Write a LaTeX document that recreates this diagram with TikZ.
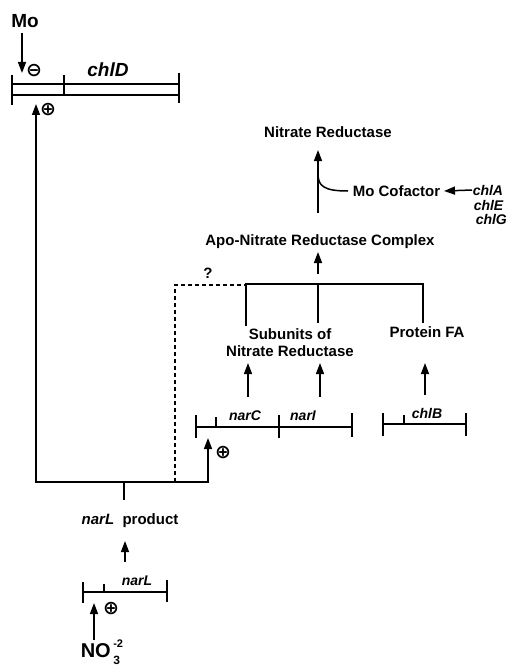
\documentclass[tikz,border=0pt]{standalone}
\usepackage{fontspec}
\setmainfont{Liberation Sans}
\newfontfamily\symfont{DejaVu Sans}
\usetikzlibrary{arrows.meta}
\begin{document}
\begin{tikzpicture}[x=1pt,y=-1pt,
  line width=1.5pt,
  tip/.style={-{Triangle[length=11pt,width=8pt]}},
  lbl/.style={inner sep=0pt,font=\fontsize{15}{17}\selectfont\bfseries},
  gene/.style={inner sep=0pt,font=\fontsize{14}{16}\selectfont\bfseries\itshape},
  big/.style={inner sep=0pt,font=\fontsize{19}{21}\selectfont\bfseries},
  small/.style={inner sep=0pt,font=\fontsize{11}{11}\selectfont\bfseries},
  sym/.style={inner sep=0pt,font=\fontsize{19}{19}\selectfont\symfont\bfseries}]
\useasboundingbox (0,0) rectangle (507,666);
% ---------- chlD at top ----------
\node[big] (mo) at (25,21) {Mo};
\coordinate (motip) at (22,73);
\draw[tip] (22,33) -- (motip);
\node[sym] (minus) at (34,71) {⊖};
\draw (12,84) rectangle (179,95);
\draw (12,75) -- (12,105);
\draw (64,75) -- (64,95);
\draw (179,73) -- (179,103);
\node[big,font=\fontsize{19}{21}\selectfont\bfseries\itshape] (chlD) at (108,70) {chlD};
\node[sym] (plusD) at (48,110) {⊕};
% ---------- main regulator path ----------
\coordinate (topTip) at (36,104);
\coordinate (cornerL) at (36,482);
\coordinate (cornerR) at (208,482);
\coordinate (narCtip) at (208,438);
\draw[{Triangle[length=11pt,width=8pt]}-{Triangle[length=11pt,width=8pt]}]
  (topTip) -- (cornerL) -- (cornerR) -- (narCtip);
\node[sym] (plusC) at (223,453) {⊕};
% dashed path
\coordinate (dashB) at (175,482);
\coordinate (dashC) at (175,285);
\coordinate (branchL) at (246,285);
\draw[dashed,dash pattern=on 4pt off 3pt] (dashB) -- (dashC) -- (branchL);
\node[lbl] (q) at (208,273) {?};
% ---------- narL ----------
\node[lbl] (narLp) at (130,521) {\itshape narL\upshape\ \ product};
\draw (124,482) -- (124,500);
\draw[tip] (125,562) -- (125,541);
\draw (83,592) -- (167,592);
\draw (83,582) -- (83,603);
\draw (104,584) -- (104,592);
\draw (167,580) -- (167,602);
\node[gene] (narL) at (137,581) {narL};
\node[big,font=\fontsize{20}{22}\selectfont\bfseries,anchor=west] (no3) at (80,651) {NO};
\node[small,anchor=west] (sup) at ([xshift=1pt,yshift=7pt]no3.east) {-2};
\node[small,font=\fontsize{12}{12}\selectfont\bfseries,anchor=west] (sub) at ([xshift=1pt,yshift=-9pt]no3.east) {3};
\draw[tip] (94,640) -- (94,603);
\node[sym] (plusL) at (111,609) {⊕};
% ---------- apo complex branch ----------
\draw (246,326) -- (246,284) -- (423,284) -- (423,323);
\draw (318,284) -- (318,323);
\node[lbl] (apo) at (320,242) {Apo-Nitrate Reductase Complex};
\draw[tip] (318,274) -- (318,252);
\node[lbl] (nr) at (328,132) {Nitrate Reductase};
\draw[tip] (318,213) -- (318,150);
\node[lbl,anchor=west] (moco) at (352,191) {Mo Cofactor};
\draw ([xshift=-4pt]moco.west) .. controls (324,191) and (318,186) .. (318,174);
\node[gene,anchor=west] (chlA) at (472,190) {chlA};
\node[gene,anchor=west] (chlE) at (473,205) {chlE};
\node[gene,anchor=west] (chlG) at (475,219) {chlG};
\draw[tip] (chlA.west) -- ([xshift=3pt]moco.east);
% subunits
\node[lbl,align=center] (subu) at (290,343) {Subunits of\\Nitrate Reductase};
\node[lbl] (pfa) at (427,332) {Protein FA};
\draw[tip] (248,397) -- (248,363);
\draw[tip] (320,397) -- (320,363);
\draw[tip] (425,395) -- (425,363);
% narC narI
\draw (196,427) -- (352,427);
\draw (196,415) -- (196,438);
\draw (216,417) -- (216,427);
\draw (279,415) -- (279,438);
\draw (352,413) -- (352,437);
\node[gene] (narC) at (245,416) {narC};
\node[gene] (narI) at (303,416) {narI};
% chlB
\draw (383,424) -- (466,424);
\draw (383,413) -- (383,436);
\draw (404,415) -- (404,424);
\draw (466,413) -- (466,436);
\node[gene] (chlB) at (427,413) {chlB};
\end{tikzpicture}
\end{document}
